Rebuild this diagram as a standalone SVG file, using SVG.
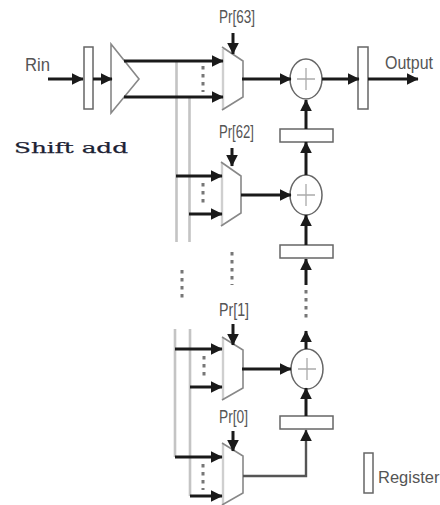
<svg xmlns="http://www.w3.org/2000/svg" width="440" height="505" viewBox="0 0 440 505">
<style>
.t{font-family:"Liberation Sans",Arial,sans-serif;font-size:18px;fill:#555}
.r{font-size:16.500px}
.s{font-family:"DejaVu Serif",serif;font-size:15px;fill:#1c2233;stroke:#1c2233;stroke-width:.25}
.sh{fill:#fff;stroke:#666;stroke-width:1.5}
.w{fill:none;stroke:#1a1a1a;stroke-width:3}
.thin{fill:none;stroke:#555;stroke-width:2.4}
.bus{fill:none;stroke:#c4c4c4;stroke-width:2.6}
.dot{fill:none;stroke:#777;stroke-width:3;stroke-dasharray:3.500 4.500}
.x{fill:none;stroke:#aaa;stroke-width:1.3}
.mux{fill:#fff;stroke:#888;stroke-width:1.6}
.open{fill:none;stroke:#888;stroke-width:1.6}
.edge{stroke:#cfcfcf;stroke-width:2.4;fill:none}
.body{fill:#fff}
</style>
<defs>
<marker id="a" viewBox="0 0 10 10" refX="9.500" refY="5" markerWidth="12" markerHeight="13" markerUnits="userSpaceOnUse" orient="auto"><path d="M0 0L10 5L0 10Z" fill="#1a1a1a"/></marker>
</defs>
<g id="buses">
<path class="bus" d="M176.500 61V242M189.500 97V242M175 329V457M190 329V496"/>
</g>
<g id="rin"><text class="t" x="25" y="71" textLength="25" lengthAdjust="spacingAndGlyphs">Rin</text></g>
<g id="reg-in"><rect class="sh" x="84" y="47" width="9" height="62"/></g>
<g id="splitter"><path class="mux" d="M111 44L139 79L111 113Z"/></g>
<g id="shift-add"><text class="s" x="14" y="153" textLength="114" lengthAdjust="spacingAndGlyphs">Shift add</text></g>
<g id="mux-63">
<path class="body" d="M223 49L243 61V97L223 110Z"/>
<path class="edge" d="M223 49V110"/>
<path class="open" d="M222 47L243 61V97L222 110"/>
<text class="t" x="219" y="23" textLength="36" lengthAdjust="spacingAndGlyphs">Pr[63]</text>
</g>
<g id="mux-62">
<path class="body" d="M222 163L241 176V213L222 226Z"/>
<path class="edge" d="M222 163V226"/>
<path class="open" d="M221 162L241 176V213L221 226"/>
<text class="t" x="219" y="138" textLength="35" lengthAdjust="spacingAndGlyphs">Pr[62]</text>
</g>
<g id="mux-1">
<path class="body" d="M223 338L243 350V388L223 400Z"/>
<path class="edge" d="M223 338V400"/>
<path class="open" d="M222 337L243 350V388L222 400"/>
<text class="t" x="219" y="316" textLength="30" lengthAdjust="spacingAndGlyphs">Pr[1]</text>
</g>
<g id="mux-0">
<path class="body" d="M223 444L243 456V493L223 505Z"/>
<path class="edge" d="M223 444V505"/>
<path class="open" d="M222 443L243 456V493L222 505"/>
<text class="t" x="219" y="423" textLength="29" lengthAdjust="spacingAndGlyphs">Pr[0]</text>
</g>
<g id="adder-1"><ellipse class="sh" cx="306" cy="79" rx="16" ry="20"/><path class="x" d="M297 79H315M306 68V90"/></g>
<g id="adder-2"><ellipse class="sh" cx="306" cy="195" rx="16" ry="20"/><path class="x" d="M297 195H315M306 184V206"/></g>
<g id="adder-3"><ellipse class="sh" cx="307" cy="369" rx="16" ry="20"/><path class="x" d="M298 369H316M307 358V380"/></g>
<g id="reg-out"><rect class="sh" x="358" y="47" width="10" height="62"/></g>
<g id="output"><text class="t" x="385" y="69" textLength="48" lengthAdjust="spacingAndGlyphs">Output</text></g>
<g id="reg-1"><rect class="sh" x="280" y="129" width="53" height="13"/></g>
<g id="reg-2"><rect class="sh" x="280" y="245" width="53" height="13"/></g>
<g id="reg-3"><rect class="sh" x="280" y="416" width="53" height="13"/></g>
<g id="legend">
<rect class="sh" x="364" y="453" width="9" height="40"/>
<text class="t r" x="378" y="483">Register</text>
</g>
<g id="connectors">
<path class="w" marker-end="url(#a)" d="M48 79H83"/>
<path class="w" marker-end="url(#a)" d="M93 79H112"/>
<path class="w" marker-end="url(#a)" d="M124 61H223"/>
<path class="w" marker-end="url(#a)" d="M124 97H223"/>
<path class="w" marker-end="url(#a)" d="M233 33V54"/>
<path class="w" marker-end="url(#a)" d="M242 79H291"/>
<path class="w" marker-end="url(#a)" d="M322 79H359"/>
<path class="w" marker-end="url(#a)" d="M368 79H418"/>
<path class="w" marker-end="url(#a)" d="M176 176H222"/>
<path class="w" marker-end="url(#a)" d="M189 214H222"/>
<path class="w" marker-end="url(#a)" d="M232 148V166"/>
<path class="w" marker-end="url(#a)" d="M241 195H291"/>
<path class="w" marker-end="url(#a)" d="M306 129V100"/>
<path class="w" marker-end="url(#a)" d="M306 175V142"/>
<path class="w" marker-end="url(#a)" d="M306 245V215"/>
<path class="w" marker-end="url(#a)" d="M306 285V259"/>
<path class="w" marker-end="url(#a)" d="M306 349V331"/>
<path class="w" marker-end="url(#a)" d="M175 349H222"/>
<path class="w" marker-end="url(#a)" d="M190 387H222"/>
<path class="w" marker-end="url(#a)" d="M233 324V345"/>
<path class="w" marker-end="url(#a)" d="M242 369H291"/>
<path class="w" marker-end="url(#a)" d="M306 416V388"/>
<path class="w" marker-end="url(#a)" d="M233 431V451"/>
<path class="w" marker-end="url(#a)" d="M175 457H222"/>
<path class="w" marker-end="url(#a)" d="M190 496H222"/>
<path class="thin" marker-end="url(#a)" d="M243 476H306V430"/>
<path class="dot" d="M203 66V92M203 183V207M204 356V380M203 464V490M182 270V302M232 252V285M306 290V322"/>
</g>
</svg>
